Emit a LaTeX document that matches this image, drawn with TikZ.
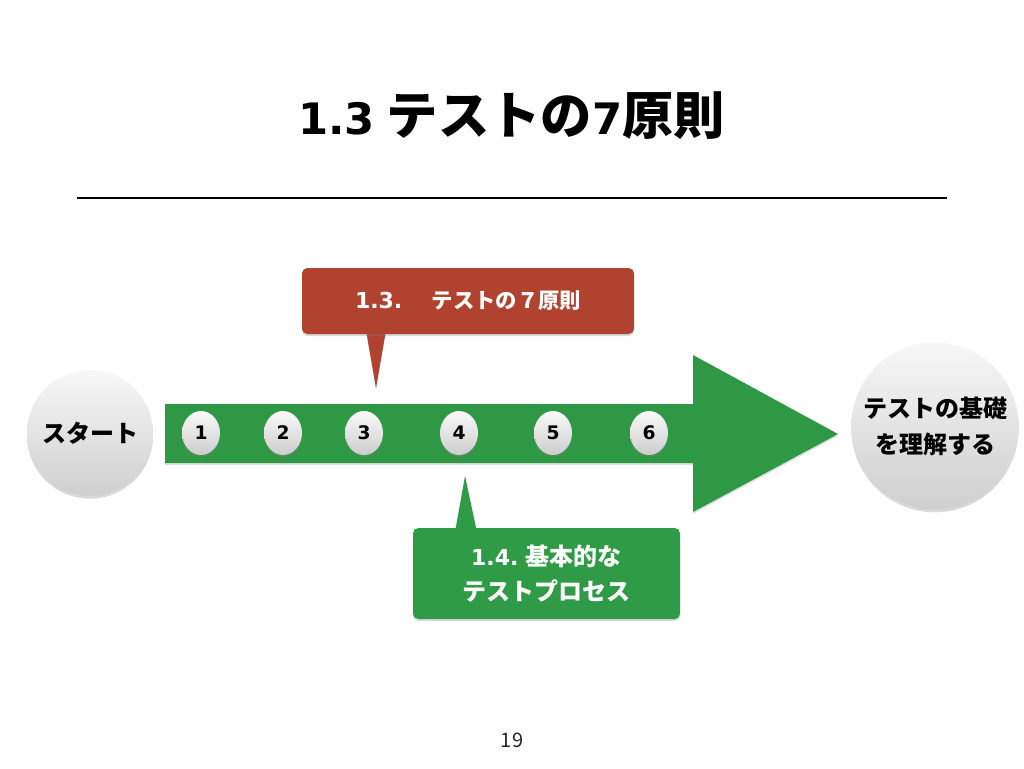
\documentclass[tikz,border=0pt]{standalone}
\usepackage{fontspec}
\setmainfont{Noto Sans CJK JP}
\newfontfamily\lat{DejaVu Sans}
\usetikzlibrary{shadows,shapes.geometric}
\definecolor{arrowgreen}{RGB}{46,152,68}
\definecolor{calloutred}{RGB}{178,66,48}
\definecolor{calloutgreen}{RGB}{48,155,70}
\newcommand{\latfs}[2]{{\lat\fontsize{#1}{#1}\selectfont #2}}
\tikzset{
  ball/.style={circle, draw=none, top color=black!3, bottom color=black!19,
    drop shadow={shadow xshift=0pt, shadow yshift=-2pt, opacity=0.3}},
  numball/.style={ellipse, draw=none, minimum width=38*0.75pt, minimum height=44*0.75pt, inner sep=0pt,
    top color=black!2, bottom color=black!20,
    font=\lat\bfseries\fontsize{14}{15}\selectfont,
    drop shadow={shadow xshift=0pt, shadow yshift=-1.5pt, opacity=0.35}},
  callout/.style={rounded corners=4pt, text=white, align=center, inner sep=0pt,
    drop shadow={shadow xshift=0pt, shadow yshift=-1.5pt, opacity=0.3}}
}
\begin{document}
\begin{tikzpicture}[x=0.75pt,y=-0.75pt]
\useasboundingbox (0,0) rectangle (1024,768);
% title
\node[font=\bfseries\fontsize{38.5}{44}\selectfont] (title) at (511.5,116) {\latfs{32.5}{\bfseries 1.3} テストの\latfs{32.5}{\bfseries 7}原則};
\coordinate (ruleL) at (77,198);
\coordinate (ruleR) at (947,198);
\draw[line width=1.5pt] (ruleL) -- (ruleR);
% big arrow
\fill[arrowgreen, drop shadow={shadow xshift=0pt, shadow yshift=-1.5pt, opacity=0.25}]
  (165,404) -- (693,404) -- (693,355) -- (838,434) -- (693,512) -- (693,463) -- (165,463) -- cycle;
% start / goal
\node[ball, minimum size=126*0.75pt, font=\bfseries\fontsize{18}{22}\selectfont] (start) at (90,433) {スタート};
\node[ball, minimum size=160*0.75pt, font=\bfseries\fontsize{18}{27}\selectfont, align=center] (goal) at (935,426) {テストの基礎\\を理解する};
% number balls
\node[numball] (n1) at (201,433) {1};
\node[numball] (n2) at (283,433) {2};
\node[numball] (n3) at (364,433) {3};
\node[numball] (n4) at (459,433) {4};
\node[numball] (n5) at (553,433) {5};
\node[numball] (n6) at (649,433) {6};
% red callout
\coordinate (redtip) at (376,388);
\fill[calloutred, drop shadow={shadow xshift=0pt, shadow yshift=-1.5pt, opacity=0.3}]
  (366,330) -- (redtip) -- (386,330) -- cycle;
\node[callout, fill=calloutred, minimum width=332*0.75pt, minimum height=66*0.75pt,
  font=\bfseries\fontsize{16}{20}\selectfont] (red) at (468,301) {\latfs{16.5}{\bfseries 1.3.}\hspace{22pt}テストの７原則};
% green callout
\coordinate (greentip) at (465,476);
\fill[calloutgreen] (455,532) -- (greentip) -- (477,532) -- cycle;
\node[callout, fill=calloutgreen, minimum width=267*0.75pt, minimum height=91*0.75pt,
  font=\bfseries\fontsize{18}{26}\selectfont] (green) at (546.5,573.5) {\latfs{16.5}{\bfseries 1.4.} 基本的な\\テストプロセス};
% page number
\node[font=\fontsize{15}{16}\selectfont, text=black!85] (page) at (512,740) {19};
\end{tikzpicture}
\end{document}
